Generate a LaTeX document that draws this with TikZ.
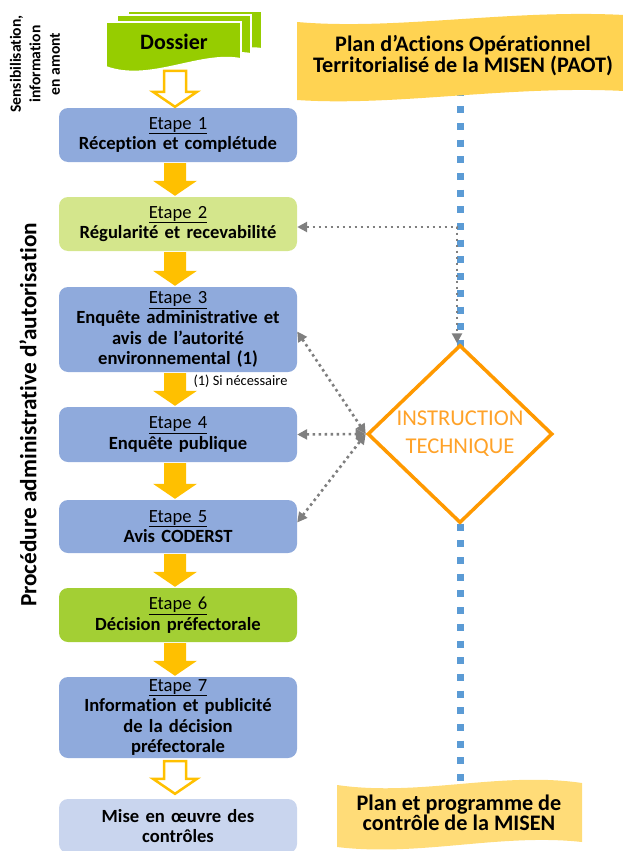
\documentclass[tikz,border=0pt]{standalone}
\usepackage{fontspec}
\setmainfont{Carlito}[Ligatures=NoCommon]
\usetikzlibrary{arrows.meta,shapes.geometric,calc}
\pgfdeclarelayer{bg}
\pgfsetlayers{bg,main}
\definecolor{boxblue}{RGB}{143,170,220}
\definecolor{boxlgreen}{RGB}{212,230,140}
\definecolor{boxgreen}{RGB}{163,207,52}
\definecolor{boxpale}{RGB}{201,213,238}
\definecolor{dosgreen}{RGB}{150,205,0}
\definecolor{arrowyellow}{RGB}{255,192,0}
\definecolor{paotyellow}{RGB}{255,211,82}
\definecolor{pcmyellow}{RGB}{255,220,120}
\definecolor{diamorange}{RGB}{255,153,0}
\definecolor{diamtext}{RGB}{255,162,40}
\definecolor{arrowgrey}{RGB}{127,127,127}
\definecolor{lineblue}{RGB}{91,155,213}
\newcommand\blockarrow[3]{%
  \path[#1] let \p1=#2, \p2=#3 in
    (\x1-14pt,\y1-1pt) -- (\x1+8pt,\y1-1pt) -- (\x1+8pt,\y2+16pt) -- (\x1+19pt,\y2+16pt)
    -- (\x1-3pt,\y2+1pt) -- (\x1-25pt,\y2+16pt) -- (\x1-14pt,\y2+16pt) -- cycle;}
\tikzset{
  stepbox/.style={rounded corners=9pt, minimum width=238pt, text width=234pt, align=center,
    inner sep=0pt, font=\fontsize{18.6}{20.5}\selectfont},
  solidarrow/.style={fill=arrowyellow},
  hollowarrow/.style={draw=arrowyellow, fill=white, line width=2.5pt, line join=miter},
  pagestyle/.style={fill=dosgreen, draw=white, line width=1.8pt},
  greyarrow/.style={draw=arrowgrey, line width=2.6pt, dash pattern=on 2.6pt off 3.4pt,
    {Triangle[length=10pt,width=10pt]}-{Triangle[length=10pt,width=10pt]}},
  bannertext/.style={align=center, font=\bfseries\fontsize{22.2}{19}\selectfont, inner sep=0pt},
}
\begin{document}
\begin{tikzpicture}[x=1pt,y=-1pt]
\useasboundingbox (0,0) rectangle (622,851);
% Dossier (stacked documents)
\path[pagestyle] (128,11) -- (262,11) -- (262,49) .. controls (228,43) and (178,72) .. (128,56) -- cycle;
\path[pagestyle] (117,15) -- (251,15) -- (251,54) .. controls (214,47) and (164,77) .. (117,61) -- cycle;
\path[pagestyle] (106,22) -- (241,22) -- (241,59) .. controls (200,51) and (150,83) .. (106,67) -- cycle;
\node[font=\bfseries\fontsize{22}{24}\selectfont, inner sep=0pt] (dossier) at (174,42) {Dossier};
\coordinate (dosb) at (178,70);
% side labels
\node[rotate=90, align=center, font=\bfseries\fontsize{15.6}{19.5}\selectfont, inner sep=0pt] (sens) at (35,64)
  {Sensibilisation,\\information\\en amont};
\node[rotate=90, font=\bfseries\fontsize{23.3}{26}\selectfont, inner sep=0pt] (proc) at (28,415)
  {Procédure administrative d’autorisation};
% steps
\node[stepbox, fill=boxblue, minimum height=54pt] (e1) at (178,135)
  {\underline{Etape 1}\\\textbf{Réception et complétude}};
\node[stepbox, fill=boxlgreen, minimum height=54pt] (e2) at (178,224)
  {\underline{Etape 2}\\\textbf{Régularité et recevabilité}};
\node[stepbox, fill=boxblue, minimum height=85pt] (e3) at (178,329.5)
  {\underline{Etape 3}\\\textbf{Enquête administrative et}\\\textbf{avis de l’autorité}\\\textbf{environnemental (1)}};
\node[stepbox, fill=boxblue, minimum height=55pt] (e4) at (178,434.5)
  {\underline{Etape 4}\\\textbf{Enquête publique}};
\node[stepbox, fill=boxblue, minimum height=53pt] (e5) at (178,526.5)
  {\underline{Etape 5}\\\textbf{Avis CODERST}};
\node[stepbox, fill=boxgreen, minimum height=54pt] (e6) at (178,615)
  {\underline{Etape 6}\\\textbf{Décision préfectorale}};
\node[stepbox, fill=boxblue, minimum height=81pt] (e7) at (178,717.5)
  {\underline{Etape 7}\\\textbf{Information et publicité}\\\textbf{de la décision}\\\textbf{préfectorale}};
\node[stepbox, fill=boxpale, minimum height=54pt] (mise) at (178,826)
  {\textbf{Mise en œuvre des}\\\textbf{contrôles}};
\node[font=\fontsize{14.4}{16}\selectfont, inner sep=0pt] (note) at (240.5,381) {(1) Si nécessaire};
% block arrows
\blockarrow{hollowarrow}{(dosb)}{(e1.north)}
\blockarrow{solidarrow}{(e1.south)}{(e2.north)}
\blockarrow{solidarrow}{(e2.south)}{(e3.north)}
\blockarrow{solidarrow}{(e3.south)}{(e4.north)}
\blockarrow{solidarrow}{(e4.south)}{(e5.north)}
\blockarrow{solidarrow}{(e5.south)}{(e6.north)}
\blockarrow{solidarrow}{(e6.south)}{(e7.north)}
\blockarrow{hollowarrow}{([yshift=-2pt]e7.south)}{([yshift=4pt]mise.north)}
% banners
\fill[paotyellow] (297,22) .. controls (400,31) and (520,7) .. (640,16) -- (640,92)
  .. controls (520,83) and (400,107) .. (297,100) -- cycle;
\node[bannertext] (paot) at (463,56) {Plan d’Actions Opérationnel\\Territorialisé de la MISEN (PAOT)};
\fill[pcmyellow] (337,785) .. controls (420,797) and (500,771) .. (582,783) -- (582,842)
  .. controls (500,833) and (420,857) .. (337,847) -- cycle;
\node[bannertext] (pcm) at (459,813) {Plan et programme de\\contrôle de la MISEN};
% diamond
\node[diamond, draw=diamorange, fill=white, line width=3.5pt, minimum width=185pt,
  minimum height=178pt, inner sep=0pt] (diam) at (460,434) {};
\node[align=center, text=diamtext, font=\fontsize{22.6}{28}\selectfont, inner sep=0pt] (instr) at (460,434)
  {INSTRUCTION\\TECHNIQUE};
% blue dotted line
\begin{pgfonlayer}{bg}
\draw[lineblue, line width=7pt, dash pattern=on 7pt off 9.7pt] (diam.north |- paot.center) -- (diam.south |- pcm.center);
\end{pgfonlayer}
% grey arrows
\draw[greyarrow] ([yshift=-3pt]e2.east) -| ([xshift=-3pt]diam.north);
\draw[greyarrow] ([yshift=-2pt]e3.east) -- (diam.west);
\draw[greyarrow] (e4.east) -- (diam.west);
\draw[greyarrow] ([yshift=4pt]e5.east) -- (diam.west);
\end{tikzpicture}
\end{document}
